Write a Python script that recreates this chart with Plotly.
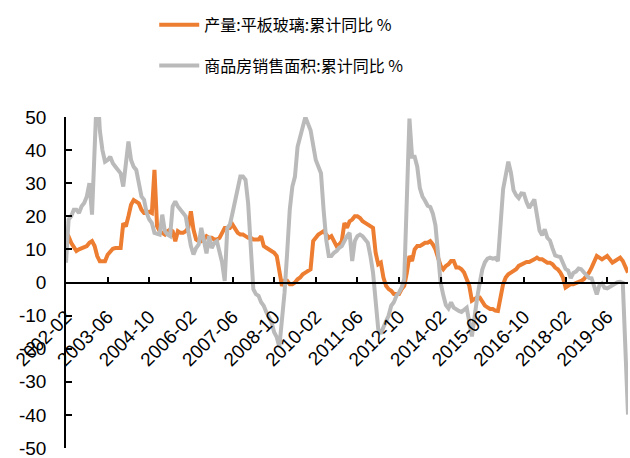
import pandas as pd
import plotly.graph_objects as go

# Monthly categories 2002-02 .. 2020-02
months = [p.strftime("%Y-%m") for p in pd.period_range("2002-02", "2020-02", freq="M")]

tick_labels = ["2002-02", "2003-06", "2004-10", "2006-02", "2007-06", "2008-10", "2010-02",
               "2011-06", "2012-10", "2014-02", "2015-06", "2016-10", "2018-02", "2019-06"]

# 产量:平板玻璃:累计同比 %
glass_yoy = (
    [13.5, 13.9, 12.0, 10.5, 9.5, 10.0, 10.4, 10.5, 11.0, 12.0, 12.5] +               # 2002
    [11.0, 8.0, 6.4, 6.4, 6.4, 8.4, 9.4, 10.2, 10.4, 10.4, 10.4, 17.9] +              # 2003
    [16.9, 20.0, 23.5, 24.9, 24.5, 23.9, 22.0, 21.0, 21.0, 21.4, 21.0, 34.0] +        # 2004
    [17.0, 15.5, 15.0, 14.5, 15.5, 16.0, 15.5, 12.5, 15.5, 15.0, 15.0, 15.5] +        # 2005
    [16.5, 21.5, 16.0, 13.0, 12.5, 12.5, 13.0, 14.0, 13.5, 13.5, 13.0, 13.0] +        # 2006
    [13.5, 15.0, 16.5, 16.5, 16.5, 17.5, 16.0, 15.0, 14.5, 14.5, 14.0, 13.5] +        # 2007
    [13.5, 13.0, 13.0, 13.0, 14.0, 11.0, 10.5, 10.0, 9.8, 9.0, 8.0, 4.0] +            # 2008
    [-1.0, 0.5, 0.5, -0.5, -0.5, 0.0, 1.0, 1.5, 2.5, 3.0, 3.5, 4.0] +                 # 2009
    [12.5, 13.5, 14.5, 15.0, 15.5, 14.5, 13.5, 14.0, 12.5, 11.0, 11.5, 12.5] +        # 2010
    [18.0, 16.5, 18.5, 19.0, 20.0, 20.0, 19.5, 18.5, 18.0, 17.5, 17.0, 16.5] +        # 2011
    [9.0, 5.5, 6.0, 1.5, -1.0, -2.0, -2.5, -3.5, -3.5, -3.5, -2.0, -1.0] +            # 2012
    [3.0, 8.0, 6.5, 10.0, 11.0, 11.0, 11.5, 12.0, 12.0, 12.5, 11.5, 10.0] +           # 2013
    [7.5, 5.0, 4.0, 5.0, 5.5, 6.5, 6.5, 4.5, 4.5, 4.0, 3.0, 1.0] +                    # 2014
    [-1.0, -5.5, -5.0, -4.5, -4.5, -6.0, -7.0, -7.5, -8.0, -8.0, -8.5, -8.6] +        # 2015
    [-4.0, -0.5, 1.5, 2.5, 3.0, 3.5, 4.0, 5.0, 5.5, 6.0, 6.2, 6.2] +                  # 2016
    [6.5, 7.0, 7.5, 7.0, 7.0, 6.5, 6.0, 6.0, 5.5, 4.5, 4.0, 3.0] +                    # 2017
    [1.5, -1.5, -1.0, -0.5, -0.5, -0.2, 0.0, 0.5, 1.0, 2.0, 3.0, 4.5] +               # 2018
    [6.5, 8.0, 7.5, 7.0, 7.5, 8.0, 7.0, 6.0, 6.5, 7.0, 7.5, 6.5] +                    # 2019
    [5.0, 3.0]                                                                        # 2020
)

# 商品房销售面积:累计同比 % (January not published)
sales_yoy = (
    [6.0, 19.0, 20.0, 22.0, 22.0, 21.0, 23.0, 24.0, 26.0, 30.0, 20.5] +               # 2002
    [None, 60.0, 46.0, 40.0, 36.5, 37.0, 38.0, 36.0, 35.0, 34.0, 33.0, 29.0] +        # 2003
    [None, 42.6, 37.0, 35.0, 34.0, 30.0, 26.0, 25.0, 21.0, 19.0, 18.0, 15.0] +        # 2004
    [None, 14.5, 20.5, 15.5, 14.5, 14.0, 23.0, 24.5, 23.0, 22.0, 21.0, 20.0] +        # 2005
    [None, 11.0, 8.5, 10.4, 11.5, 16.5, 11.8, 8.8, 14.0, 10.4, 12.0, 12.5] +          # 2006
    [None, 6.0, 0.5, 16.5, 17.5, 21.0, 25.0, 29.0, 32.0, 32.0, 31.0, 24.0] +          # 2007
    [None, -2.0, -3.5, -4.0, -6.0, -7.0, -9.0, -10.5, -12.0, -15.0, -16.5, -19.5] +   # 2008
    [None, -3.0, 9.0, 22.0, 29.0, 32.0, 41.0, 44.0, 47.0, 50.0, 48.0, 46.0] +         # 2009
    [None, 37.0, 35.0, 33.0, 22.0, 13.0, 8.0, 8.0, 9.0, 9.5, 10.5, 11.0] +            # 2010
    [None, 14.0, 15.0, 6.5, 12.5, 14.0, 14.5, 14.0, 13.0, 12.0, 8.0, 3.0] +           # 2011
    [None, -14.0, -15.5, -13.5, -11.5, -10.0, -7.0, -6.0, -4.0, -3.0, -1.5, 1.0] +    # 2012
    [None, 49.5, 38.0, 38.0, 35.0, 28.5, 26.0, 24.7, 23.2, 22.8, 20.8, 17.3] +        # 2013
    [None, -0.1, -3.8, -6.8, -7.8, -6.0, -7.6, -8.3, -8.6, -8.9, -8.2, -7.6] +        # 2014
    [None, -16.3, -9.2, -4.8, -0.2, 3.9, 6.1, 7.2, 7.5, 7.2, 7.4, 6.5] +              # 2015
    [None, 28.2, 33.1, 36.5, 33.2, 27.9, 26.4, 25.5, 26.9, 26.8, 24.3, 22.5] +        # 2016
    [None, 25.1, 19.5, 15.7, 14.3, 16.1, 13.5, 12.7, 10.3, 8.2, 7.9, 7.7] +           # 2017
    [None, 4.1, 3.6, 1.3, 2.9, 3.3, 4.2, 4.0, 2.9, 2.2, 1.4, 1.3] +                   # 2018
    [None, -3.6, -0.9, -0.3, -1.6, -1.8, -1.3, -0.6, -0.1, 0.1, 0.2, -0.1] +          # 2019
    [None, -39.9]                                                                     # 2020
)

y_ticks = [50, 40, 30, 20, 10, 0, -10, -20, -30, -40, -50]
y_tick_text = ["50", "40", "30", "20", "10", "0", "-10", "-20", "-30", "-40", "-50"]

FONT = "Liberation Sans, Arial, Noto Sans CJK SC, sans-serif"

fig = go.Figure()
fig.add_trace(go.Scatter(
    x=months, y=glass_yoy, mode="lines", name="产量:平板玻璃:累计同比 %",
    line=dict(color="#ED7D31", width=4), legendgroup="a", connectgaps=True))
fig.add_trace(go.Scatter(
    x=months, y=sales_yoy, mode="lines", name="商品房销售面积:累计同比 %",
    line=dict(color="#BABABA", width=4), legendgroup="b", connectgaps=True))

fig.update_layout(
    width=630, height=458,
    margin=dict(l=66, r=2, t=117, b=10, autoexpand=False),
    paper_bgcolor="white", plot_bgcolor="white",
    font=dict(family=FONT, size=19, color="black"),
    showlegend=True,
    legend=dict(
        x=0.157, y=1.33, xanchor="left", yanchor="top", itemwidth=40,
        font=dict(family="Noto Sans CJK SC, Liberation Sans, sans-serif", size=16, color="black"),
        tracegroupgap=17, traceorder="grouped", bgcolor="rgba(0,0,0,0)"),
    xaxis=dict(
        type="category", range=[0, len(months) - 1],
        tickmode="array", tickvals=tick_labels, ticktext=tick_labels,
        tickangle=-45, ticks="inside", ticklen=5, tickwidth=1.5, tickcolor="black",
        showline=True, linecolor="black", linewidth=1.5,
        showgrid=False, zeroline=False, automargin=False,
        anchor="free", position=0.5, ticklabelstandoff=15, ticklabeloverflow="allow",
        tickfont=dict(family=FONT, size=19, color="black")),
    yaxis=dict(
        range=[-50, 50], domain=[0, 1],
        tickmode="array", tickvals=y_ticks, ticktext=y_tick_text,
        ticks="inside", ticklen=6, tickwidth=1.5, tickcolor="black",
        showline=True, linecolor="black", linewidth=1.5, automargin=False,
        showgrid=False, zeroline=False, ticklabelstandoff=14, ticklabeloverflow="allow",
        tickfont=dict(family=FONT, size=19, color="black")),
)

# remove the default 8px page margin so the 630x458 figure fills the window exactly
fig.write_html("out.html", config={"displayModeBar": False},
               post_script="document.body.style.margin='0';")
